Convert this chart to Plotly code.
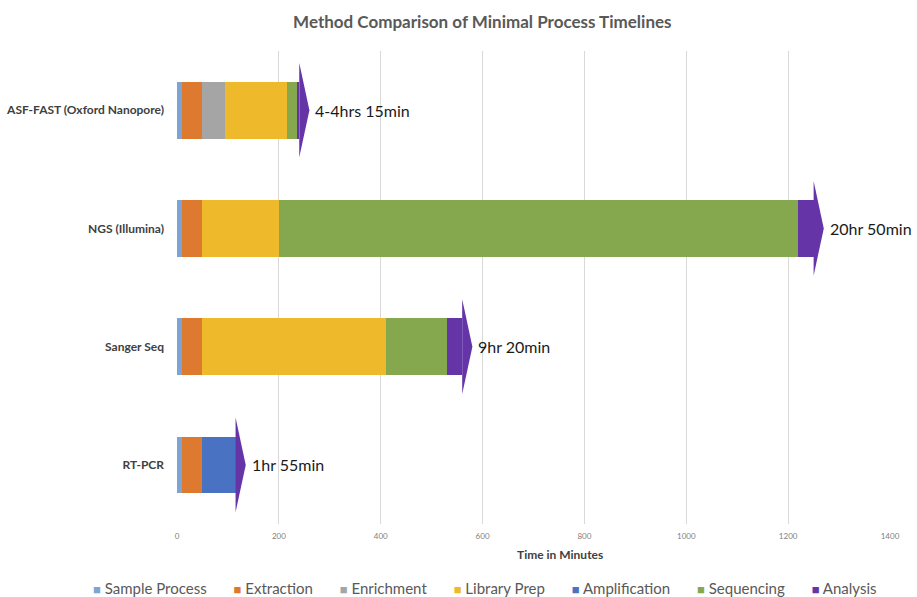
import plotly.graph_objects as go

methods = ["RT-PCR", "Sanger Seq", "NGS (Illumina)", "ASF-FAST (Oxford Nanopore)"]
series_names = ["Sample Process", "Extraction", "Enrichment", "Library Prep",
                "Amplification", "Sequencing", "Analysis"]
sample_process = [10, 10, 10, 10]
extraction = [40, 40, 40, 40]
enrichment = [0, 0, 0, 45]
library_prep = [0, 360, 150, 120]
amplification = [65, 0, 0, 0]
sequencing = [0, 120, 1020, 20]
analysis = [0, 30, 30, 5]
total_labels = ["1hr 55min", "9hr 20min", "20hr 50min", "4-4hrs 15min"]
x_ticks = [0, 200, 400, 600, 800, 1000, 1200, 1400]

series_values = [sample_process, extraction, enrichment, library_prep,
                 amplification, sequencing, analysis]
colors = ["#7DA5D3", "#DD7A2F", "#A5A5A5", "#EFB92C", "#4A72C2", "#85A84F", "#6534A6"]

ypos = list(range(len(methods)))
fig = go.Figure()
for name, vals, col in zip(series_names, series_values, colors):
    fig.add_trace(go.Bar(
        y=ypos, x=vals, name=name, orientation="h",
        marker=dict(color=col, line=dict(width=0)), width=0.48, showlegend=False,
    ))

totals = [sum(v[i] for v in series_values) for i in range(len(methods))]
arrow_depth = 20
arrow_half = 0.4
for i, t in enumerate(totals):
    fig.add_trace(go.Scatter(
        x=[t, t + arrow_depth, t, t], y=[i - arrow_half, i, i + arrow_half, i - arrow_half],
        mode="lines", fill="toself", fillcolor=colors[-1], line=dict(width=0, color=colors[-1]),
        showlegend=False, hoverinfo="skip",
    ))
    fig.add_annotation(x=t + arrow_depth, y=i, text=total_labels[i], showarrow=False,
                       xanchor="left", xshift=4, font=dict(size=16, color="#1a1a1a", family="Lato"))

fig.add_annotation(x=0.537, y=-0.045, xref="paper", yref="paper", text="<b>Time in Minutes</b>",
                   showarrow=False, yanchor="top", font=dict(size=12, color="#404040", family="Lato"))

# legend row (text legend with coloured squares)
gap = "&nbsp;" * 7
legend_text = gap.join(
    '<span style="color:%s;font-size:13px">\u25A0</span>&nbsp;%s' % (c, n)
    for n, c in zip(series_names, colors)
)
legend_y_paper = (597 - 588 - 73) / (597 - 51 - 73)
legend_x_paper = (485 - 177) / (917 - 177 - 27)
fig.add_annotation(x=legend_x_paper, y=legend_y_paper, xref="paper", yref="paper", text=legend_text,
                   showarrow=False, xanchor="center", yanchor="middle",
                   font=dict(size=15, color="#595959", family="Lato"))

fig.update_layout(
    barmode="stack",
    width=917, height=597,
    margin=dict(l=177, r=27, t=51, b=73),
    paper_bgcolor="white", plot_bgcolor="white",
    font=dict(family="Lato", color="#595959"),
    title=dict(text="<b>Method Comparison of Minimal Process Timelines</b>",
               x=0.526, xanchor="center", y=0.963, yanchor="middle", xref="container", yref="container",
               font=dict(size=17, color="#595959", family="Lato")),
    xaxis=dict(range=[0, 1400], tickvals=x_ticks, showgrid=True, gridcolor="#D9D9D9", gridwidth=1,
               zeroline=False, showline=False, tickfont=dict(size=8, color="#808080"), ticks="",
               ticklabelstandoff=6, automargin=False),
    yaxis=dict(range=[-0.5, 3.5], tickvals=ypos, ticktext=["<b>%s</b>" % m for m in methods],
               showgrid=False, zeroline=False, showline=False, ticks="", ticklen=0,
               ticklabelstandoff=12, automargin=False,
               tickfont=dict(size=12, color="#404040", family="Lato")),
    showlegend=False,
)
fig.write_html("out.html")
